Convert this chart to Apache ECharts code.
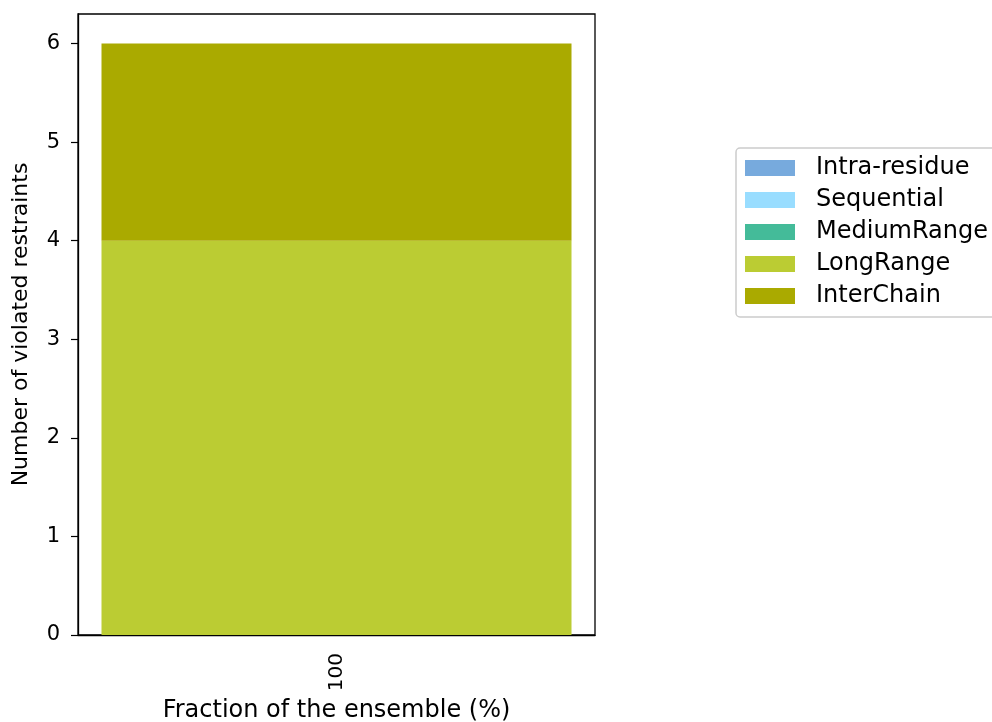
<!DOCTYPE html>
<html><head><meta charset="utf-8">
<script src="https://cdn.jsdelivr.net/npm/echarts@6/dist/echarts.min.js"></script>
<style>html,body{margin:0;padding:0;background:#fff}#c{width:992px;height:722px}</style>
</head><body><div id="c"></div>
<script>
const categories = ["100"];
const seriesNames = ["Intra-residue","Sequential","MediumRange","LongRange","InterChain"];
const intraResidue = [0];
const sequential = [0];
const mediumRange = [0];
const longRange = [4];
const interChain = [2];
const yTicks = [0,1,2,3,4,5,6];
const colors = ["#77aadd","#99ddff","#44bb99","#bbcc33","#aaaa00"];
const values = [intraResidue, sequential, mediumRange, longRange, interChain];
const F = "DejaVu Sans";
const chart = echarts.init(document.getElementById('c'), null, {renderer:'canvas'});
chart.setOption({
  animation:false,
  textStyle:{fontFamily:F},
  grid:{left:78,right:397,top:14,bottom:87,outerBoundsMode:'none',containLabel:false,
    show:true,borderColor:'#000',borderWidth:1.3,backgroundColor:'transparent'},
  legend:{orient:'vertical',left:736,top:148,itemWidth:50,itemHeight:16,itemGap:8,
    padding:[8,30,9,9],borderColor:'#cccccc',borderWidth:1.5,borderRadius:4,
    textStyle:{fontFamily:F,fontSize:24,lineHeight:24,color:'#000',padding:[0,0,0,16]},
    icon:'rect',data:seriesNames},
  xAxis:{type:'category',data:categories,
    name:'Fraction of the ensemble (%)',nameLocation:'middle',nameGap:63,
    nameTextStyle:{fontFamily:F,fontSize:24,color:'#000'},
    axisLine:{lineStyle:{color:'#000',width:1.3}},
    axisTick:{alignWithLabel:true,length:7,lineStyle:{color:'#000',width:1.2}},
    axisLabel:{rotate:90,fontFamily:F,fontSize:20,color:'#000',margin:18}},
  yAxis:{type:'value',min:0,max:6.3,
    name:'Number of violated restraints',nameLocation:'middle',nameGap:46,
    nameTextStyle:{fontFamily:F,fontSize:22,color:'#000'},
    axisLine:{show:true,lineStyle:{color:'#000',width:1.3}},
    axisTick:{show:true,length:7,lineStyle:{color:'#000',width:1.2},customValues:yTicks},
    axisLabel:{fontFamily:F,fontSize:21,color:'#000',margin:18,customValues:yTicks},
    splitLine:{show:false}},
  series: seriesNames.map((n,i)=>({name:n,type:'bar',stack:'all',data:values[i],
    barWidth:470,itemStyle:{color:colors[i]}}))
});
</script></body></html>
